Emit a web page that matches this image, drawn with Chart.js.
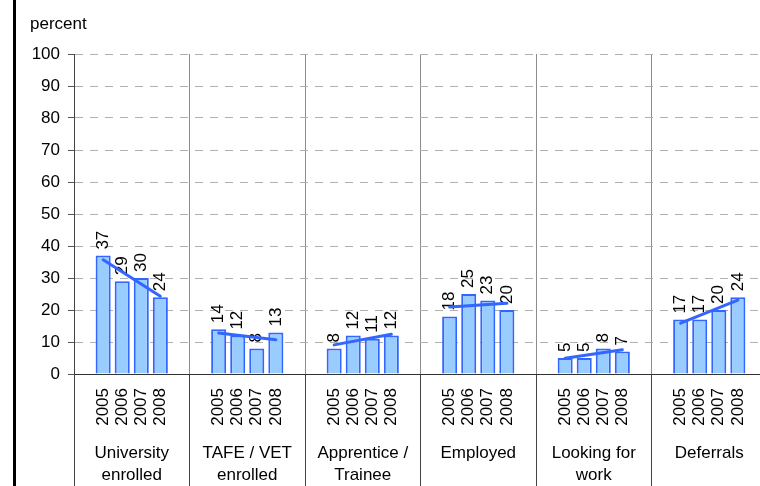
<!DOCTYPE html>
<html lang="en">
<head>
<meta charset="UTF-8">
<title>Destinations by year</title>
<script src="https://cdn.jsdelivr.net/npm/chart.js"></script>
<style>
  html, body { margin: 0; padding: 0; background: #fff; }
  .frame { width: 760px; height: 486px; overflow: hidden; }
  .box { width: 768px; height: 486px; }
</style>
</head>
<body>
<div class="frame"><div class="box"><canvas id="destChart"></canvas></div></div>
<script>
// categories and values
const groups = [['University', 'enrolled'], ['TAFE / VET', 'enrolled'], ['Apprentice /', 'Trainee'], 'Employed', ['Looking for', 'work'], 'Deferrals'];
const years = ['2005', '2006', '2007', '2008'];
const v2005 = [37, 14, 8, 18, 5, 17];
const v2006 = [29, 12, 12, 25, 5, 17];
const v2007 = [30, 8, 11, 23, 8, 20];
const v2008 = [24, 13, 12, 20, 7, 24];
const yMin = 0, yMax = 100, yStep = 10;

const series = [v2005, v2006, v2007, v2008];
const FONT = '"Liberation Sans", Arial, sans-serif';
const SIZE = 17;

Chart.defaults.font.family = FONT;
Chart.defaults.font.size = SIZE;
Chart.defaults.color = '#000';

// least squares line through the four years of one group
function fitLine(ys) {
  const n = ys.length, mx = (n - 1) / 2;
  const my = ys.reduce((a, b) => a + b, 0) / n;
  let sxy = 0, sxx = 0;
  ys.forEach((y, k) => { sxy += (k - mx) * (y - my); sxx += (k - mx) * (k - mx); });
  const b = sxy / sxx;
  return k => my + b * (k - mx);
}
const trendFits = groups.map((g, i) => fitLine(series.map(s => s[i])));

const decor = {
  id: 'decor',
  afterDatasetDraw(chart, args) {
    // value labels, rotated, above each bar
    const ctx = chart.ctx;
    const values = chart.data.datasets[args.index].data;
    ctx.save();
    ctx.font = SIZE + 'px ' + FONT;
    ctx.fillStyle = '#000';
    ctx.textAlign = 'left';
    ctx.textBaseline = 'middle';
    args.meta.data.forEach((bar, i) => {
      ctx.save();
      ctx.translate(bar.x, bar.y - 6);
      ctx.rotate(-Math.PI / 2);
      ctx.fillText(String(values[i]), 0, 0);
      ctx.restore();
    });
    ctx.restore();
  },
  afterDatasetsDraw(chart) {
    // trend line from first to last bar of every group
    const ctx = chart.ctx;
    const yScale = chart.scales.y;
    const first = chart.getDatasetMeta(0).data;
    const last = chart.getDatasetMeta(years.length - 1).data;
    ctx.save();
    ctx.strokeStyle = '#3366ff';
    ctx.lineWidth = 3;
    ctx.lineCap = 'round';
    trendFits.forEach((fit, i) => {
      ctx.beginPath();
      ctx.moveTo(first[i].x, yScale.getPixelForValue(fit(0)));
      ctx.lineTo(last[i].x, yScale.getPixelForValue(fit(years.length - 1)));
      ctx.stroke();
    });
    ctx.restore();
  },
  afterDraw(chart) {
    const ctx = chart.ctx;
    const area = chart.chartArea;
    ctx.save();
    ctx.font = SIZE + 'px ' + FONT;
    ctx.fillStyle = '#000';
    // year labels under each bar
    ctx.textAlign = 'right';
    ctx.textBaseline = 'middle';
    years.forEach((yr, d) => {
      chart.getDatasetMeta(d).data.forEach(bar => {
        ctx.save();
        ctx.translate(bar.x, area.bottom + 14);
        ctx.rotate(-Math.PI / 2);
        ctx.fillText(yr, 0, 0);
        ctx.restore();
      });
    });
    // axis title
    ctx.textAlign = 'left';
    ctx.fillText('percent', 30, 24);
    // left rule
    ctx.fillRect(13, 0, 3, chart.height);
    ctx.restore();
  }
};

new Chart(document.getElementById('destChart'), {
  type: 'bar',
  data: {
    labels: groups,
    datasets: series.map((data, d) => ({
      label: years[d],
      data: data,
      backgroundColor: '#99ccff',
      borderColor: '#3366ff',
      borderWidth: 2,
      categoryPercentage: 0.66,
      barPercentage: 0.79
    }))
  },
  options: {
    responsive: true,
    maintainAspectRatio: false,
    animation: false,
    layout: { padding: { top: 54, right: 1, left: 0, bottom: 0 } },
    plugins: { legend: { display: false }, tooltip: { enabled: false } },
    scales: {
      x: {
        offset: true,
        grid: { offset: true, color: '#8c8c8c', tickColor: '#444', tickLength: 112, lineWidth: 1 },
        border: { color: '#333', width: 1 },
        ticks: { padding: -44, maxRotation: 0, autoSkip: false, font: { size: SIZE, lineHeight: 1.3 } },
        afterFit(scale) { scale.height = 112; }
      },
      y: {
        min: yMin,
        max: yMax,
        ticks: { stepSize: yStep, padding: 8, font: { size: SIZE } },
        grid: { color: '#b0b0b0', tickColor: '#555', tickLength: 6 },
        border: { color: '#444', dash: [8, 7] },
        afterFit(scale) { scale.width = 74; }
      }
    }
  },
  plugins: [decor]
});
</script>
</body>
</html>
